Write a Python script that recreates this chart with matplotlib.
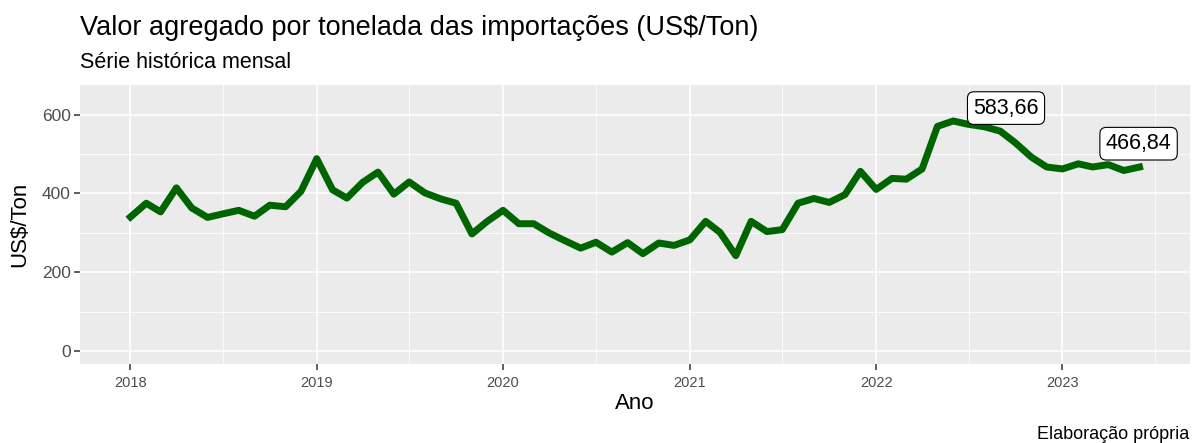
import pandas as pd
import matplotlib
matplotlib.use('Agg')
import matplotlib.pyplot as plt

plt.rcParams['font.family'] = ['Liberation Sans', 'DejaVu Sans']

# Série mensal jan/2018 - jun/2023 (US$/Ton)
meses = pd.date_range('2018-01-01', '2023-06-01', freq='MS')
valores = [
    340, 375, 353, 414, 363, 339, 348, 357, 342, 370, 366, 405,
    488, 409, 388, 428, 454, 398, 429, 401, 386, 375, 297, 329,
    357, 323, 323, 299, 280, 261, 276, 251, 275, 247, 274, 268,
    282, 329, 301, 242, 329, 303, 308, 375, 387, 377, 397, 456,
    410, 438, 436, 462, 570, 583.66, 575, 569, 558, 528, 492, 467,
    462, 475, 467, 473, 458, 466.84,
]
anos = [2018, 2019, 2020, 2021, 2022, 2023]

W, H = 1193, 443
fig = plt.figure(figsize=(W / 100, H / 100), dpi=100)
ax = fig.add_axes([80 / W, 1 - 364 / H, 1110 / W, 279 / H])

ax.set_facecolor('#EBEBEB')
for s in ax.spines.values():
    s.set_visible(False)

ax.plot(meses, valores, color='#006400', linewidth=5, zorder=3)

# rótulos: máximo e último valor
i_max = valores.index(max(valores))
def rotulo(i, dx, dy):
    txt = f'{valores[i]:.2f}'.replace('.', ',')
    ax.annotate(txt, (meses[i], valores[i]), xytext=(dx, dy), textcoords='offset points',
                ha='center', va='center', fontsize=15.5, zorder=5,
                bbox=dict(boxstyle='round,pad=0.27,rounding_size=0.3', fc='white', ec='black', lw=0.8))

rotulo(i_max, 38, 9.3)
rotulo(len(valores) - 1, -0.7, 16.8)

# ticks e grades
ax.set_xticks([pd.Timestamp(f'{a}-01-01') for a in anos])
ax.set_xticklabels([str(a) for a in anos])
ax.set_xticks([pd.Timestamp(f'{a}-07-01') for a in [2017] + anos], minor=True)
ax.set_yticks([0, 200, 400, 600])
ax.set_yticks([100, 300, 500], minor=True)

# escalas (expansão de 5%)
span = meses[-1] - meses[0]
ax.set_xlim(meses[0] - span * 0.05, meses[-1] + span * 0.05)
ax.set_ylim(-33, 675)

ax.grid(which='major', color='white', linewidth=1.1)
ax.grid(which='minor', color='white', linewidth=0.55)
ax.set_axisbelow(True)

ax.tick_params(axis='both', which='major', color='#333333', length=4.5, width=1.1)
ax.tick_params(axis='both', which='minor', length=0)
ax.tick_params(axis='x', labelsize=10.5, labelcolor='#4D4D4D', pad=4)
ax.tick_params(axis='y', labelsize=12.5, labelcolor='#4D4D4D', pad=2)

fig.text(635 / W, 1 - 409 / H, 'Ano', fontsize=16, ha='center', va='baseline')
fig.text(20 / W, 1 - 224 / H, 'US$/Ton', fontsize=16, ha='center', va='center', rotation=90)

fig.text(80 / W, 1 - 35 / H, 'Valor agregado por tonelada das importações (US$/Ton)',
         fontsize=19.5, ha='left', va='baseline')
fig.text(80 / W, 1 - 68 / H, 'Série histórica mensal', fontsize=15.5, ha='left', va='baseline')
fig.text(1189 / W, 1 - 439 / H, 'Elaboração própria', fontsize=13, ha='right', va='baseline')

fig.savefig('out.png', dpi=100)
